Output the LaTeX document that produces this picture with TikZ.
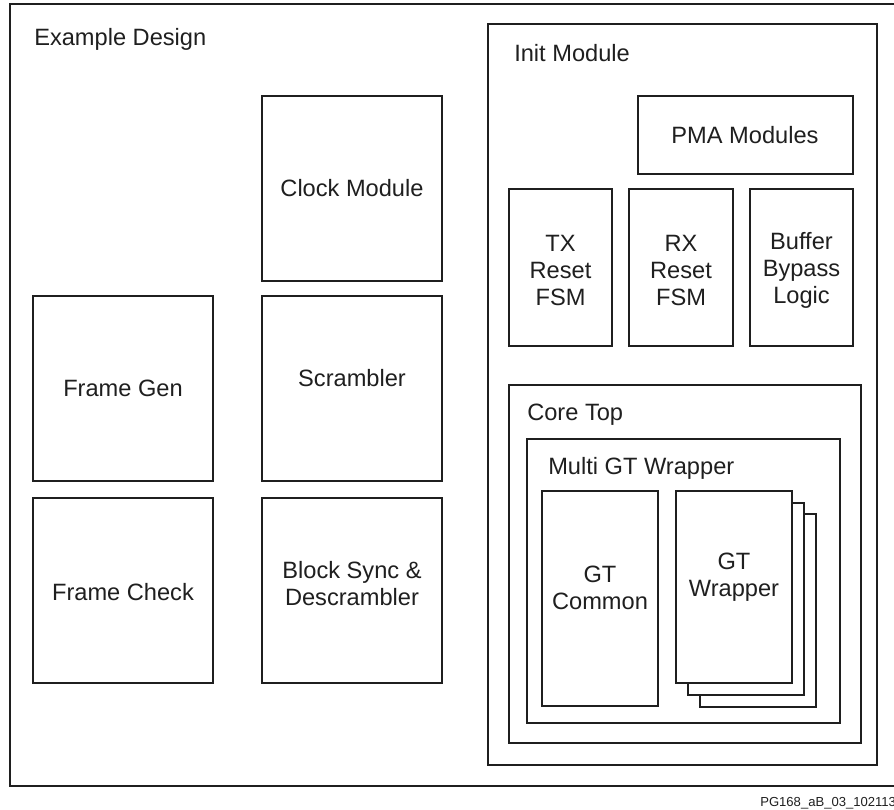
\documentclass[tikz,border=0pt]{standalone}
\usepackage{fontspec}
\setmainfont{Liberation Sans}

\begin{document}
\begin{tikzpicture}[
    x=0.025cm, y=-0.025cm,
    frame/.style={draw=black!88,line width=1.9pt},
    box/.style={draw=black!88,line width=1.45pt,fill=white},
    lbl/.style={font=\fontsize{16.8}{19.2}\selectfont,align=center,text=black!88},
    title/.style={lbl,anchor=base west,inner sep=0pt},
]
\clip (0,0) rectangle (894,809);

% outer design frame
\draw[frame] (10,4) rectangle (910,786);
\node[title] (design) at (34,46) {Example Design};

% left columns
\draw[box] (262,96) rectangle (442,281);
\node[lbl] (clock) at (352,188) {Clock Module};
\draw[box] (33,296) rectangle (213,481);
\node[lbl] (fgen) at (123,388) {Frame Gen};
\draw[box] (262,296) rectangle (442,481);
\node[lbl] (scram) at (352,378) {Scrambler};
\draw[box] (33,498) rectangle (213,683);
\node[lbl] (fchk) at (123,592) {Frame Check};
\draw[box] (262,498) rectangle (442,683);
\node[lbl] (bsync) at (352,584) {Block Sync \&\\Descrambler};

% init module
\draw[box] (488,24) rectangle (877,765);
\node[title] (init) at (514,61) {Init Module};
\draw[box] (638,96) rectangle (853,174);
\node[lbl] (pma) at (745,135) {PMA Modules};
\draw[box] (509,189) rectangle (612,346);
\node[lbl] (txrst) at (560.5,270) {TX\\Reset\\FSM};
\draw[box] (629,189) rectangle (733,346);
\node[lbl] (rxrst) at (681,270) {RX\\Reset\\FSM};
\draw[box] (750,189) rectangle (853,346);
\node[lbl] (bypass) at (801.5,270) {Buffer\\Bypass\\Logic};

% core top
\draw[box] (509,385) rectangle (861,743);
\node[title] (core) at (527,420) {Core Top};
\draw[box] (527,439) rectangle (840,723);
\node[title] (multi) at (548,474) {Multi GT Wrapper};
\draw[box] (542,491) rectangle (658,706);
\node[lbl] (gtcom) at (600,588) {GT\\Common};

% stacked gt wrappers
\draw[box] (700,514) rectangle (816,707);
\draw[box] (688,503) rectangle (804,695);
\draw[box] (676,491) rectangle (792,683);
\node[lbl] (gtwrap) at (734,577) {GT\\Wrapper};

\node[anchor=base west,inner sep=0pt,font=\fontsize{9.3}{11}\selectfont,text=black!88] (fig) at (760,806) {PG168\_aB\_03\_102113};
\end{tikzpicture}
\end{document}
